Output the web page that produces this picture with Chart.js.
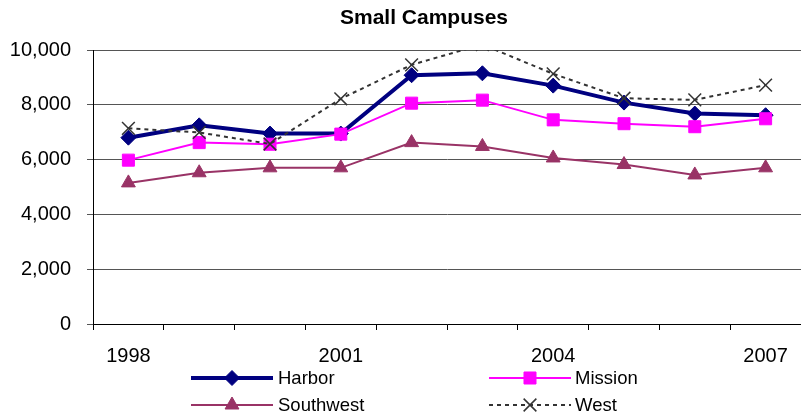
<!DOCTYPE html>
<html>
<head>
<meta charset="utf-8">
<script src="https://cdn.jsdelivr.net/npm/chart.js@4/dist/chart.umd.min.js"></script>
<style>
  html, body { margin: 0; padding: 0; background: #fff; }
  #wrap { width: 801px; height: 417px; position: relative; }
</style>
</head>
<body>
<div id="wrap"><canvas id="campusChart" width="801" height="417"></canvas></div>
<script>
// Small Campuses data
const years = ['1998', '1999', '2000', '2001', '2002', '2003', '2004', '2005', '2006', '2007'];
const shownYears = ['1998', '2001', '2004', '2007'];
const harbor = [6800, 7250, 6950, 6950, 9080, 9150, 8700, 8080, 7680, 7620];
const mission = [5980, 6620, 6560, 6930, 8060, 8170, 7450, 7310, 7200, 7490];
const southwest = [5150, 5520, 5700, 5700, 6620, 6480, 6060, 5820, 5440, 5700];
const west = [7140, 6990, 6570, 8220, 9460, 10200, 9130, 8240, 8180, 8720];
const yTicks = [0, 2000, 4000, 6000, 8000, 10000];
const chartTitle = 'Small Campuses';

const FONT = '"Liberation Sans", Arial, sans-serif';

// custom title + 2x2 legend, drawn after the chart
const titleAndLegend = {
  id: 'titleAndLegend',
  afterDraw(chart) {
    const ctx = chart.ctx;
    ctx.save();
    ctx.fillStyle = '#000';
    ctx.font = 'bold 21px ' + FONT;
    ctx.textAlign = 'center';
    ctx.textBaseline = 'middle';
    ctx.fillText(chartTitle, 424, 18);

    const cols = [{ x0: 191, x1: 273, tx: 278 }, { x0: 489, x1: 571, tx: 575 }];
    const rows = [378, 405];
    ctx.font = '18.5px ' + FONT;
    ctx.textAlign = 'left';
    chart.data.datasets.forEach((ds, i) => {
      const c = cols[i % 2], y = rows[Math.floor(i / 2)];
      ctx.save();
      ctx.strokeStyle = ds.borderColor;
      ctx.lineWidth = ds.borderWidth;
      ctx.setLineDash(ds.borderDash || []);
      ctx.beginPath();
      ctx.moveTo(c.x0, y);
      ctx.lineTo(c.x1, y);
      ctx.stroke();
      ctx.setLineDash([]);
      ctx.fillStyle = ds.pointBackgroundColor;
      ctx.strokeStyle = ds.pointBorderColor;
      ctx.lineWidth = ds.pointBorderWidth;
      Chart.helpers.drawPoint(ctx, {
        pointStyle: ds.pointStyle, radius: ds.pointRadius, rotation: 0, borderWidth: ds.pointBorderWidth
      }, (c.x0 + c.x1) / 2, y);
      ctx.restore();
      ctx.fillStyle = '#000';
      ctx.fillText(ds.label, c.tx, y + 1);
    });
    ctx.restore();
  }
};

new Chart(document.getElementById('campusChart').getContext('2d'), {
  type: 'line',
  data: {
    labels: years,
    datasets: [
      { label: 'Harbor', data: harbor, borderColor: '#000080', borderWidth: 4,
        pointStyle: 'rectRot', pointRadius: 7.5, pointBackgroundColor: '#000080', pointBorderColor: '#000080', pointBorderWidth: 1, order: 4 },
      { label: 'Mission', data: mission, borderColor: '#FF00FF', borderWidth: 2,
        pointStyle: 'rect', pointRadius: 8.5, pointBackgroundColor: '#FF00FF', pointBorderColor: '#FF00FF', pointBorderWidth: 1, order: 3 },
      { label: 'Southwest', data: southwest, borderColor: '#993366', borderWidth: 2,
        pointStyle: 'triangle', pointRadius: 8, pointBackgroundColor: '#993366', pointBorderColor: '#993366', pointBorderWidth: 1, order: 2 },
      // West goes over the top of the axis in 2003; clip it at the plot edge like the original
      { label: 'West', data: west, borderColor: '#333333', borderWidth: 2, borderDash: [4, 4], clip: 0,
        pointStyle: 'crossRot', pointRadius: 9, pointBackgroundColor: '#333333', pointBorderColor: '#333333', pointBorderWidth: 1.5, order: 1 }
    ]
  },
  options: {
    responsive: false,
    animation: false,
    events: [],
    layout: { autoPadding: false, padding: { top: 50, left: 0, right: 0, bottom: 0 } },
    elements: { line: { tension: 0, fill: false } },
    plugins: { legend: { display: false }, title: { display: false }, tooltip: { enabled: false } },
    scales: {
      x: {
        offset: true,
        afterFit(scale) {
          scale.height = 93;
          scale.paddingLeft = 0;
          scale.paddingRight = 0;
        },
        grid: { offset: true, drawOnChartArea: false, drawTicks: true, tickLength: 6, color: '#000' },
        border: { color: '#000', width: 1 },
        ticks: {
          autoSkip: false, maxRotation: 0, padding: 14, color: '#000',
          font: { family: FONT, size: 20 },
          callback(value, index) {
            const y = years[index];
            return shownYears.includes(y) ? y : '';
          }
        }
      },
      y: {
        min: 0, max: 10000,
        afterFit(scale) { scale.width = 93; },
        afterBuildTicks(scale) { scale.ticks = yTicks.map(v => ({ value: v })); },
        grid: { color: '#555', drawTicks: true, tickLength: 6 },
        border: { color: '#000', width: 1 },
        ticks: {
          padding: 16, color: '#000',
          font: { family: FONT, size: 20 },
          callback(v) { return v.toLocaleString('en-US'); }
        }
      }
    }
  },
  plugins: [titleAndLegend]
});
</script>
</body>
</html>
